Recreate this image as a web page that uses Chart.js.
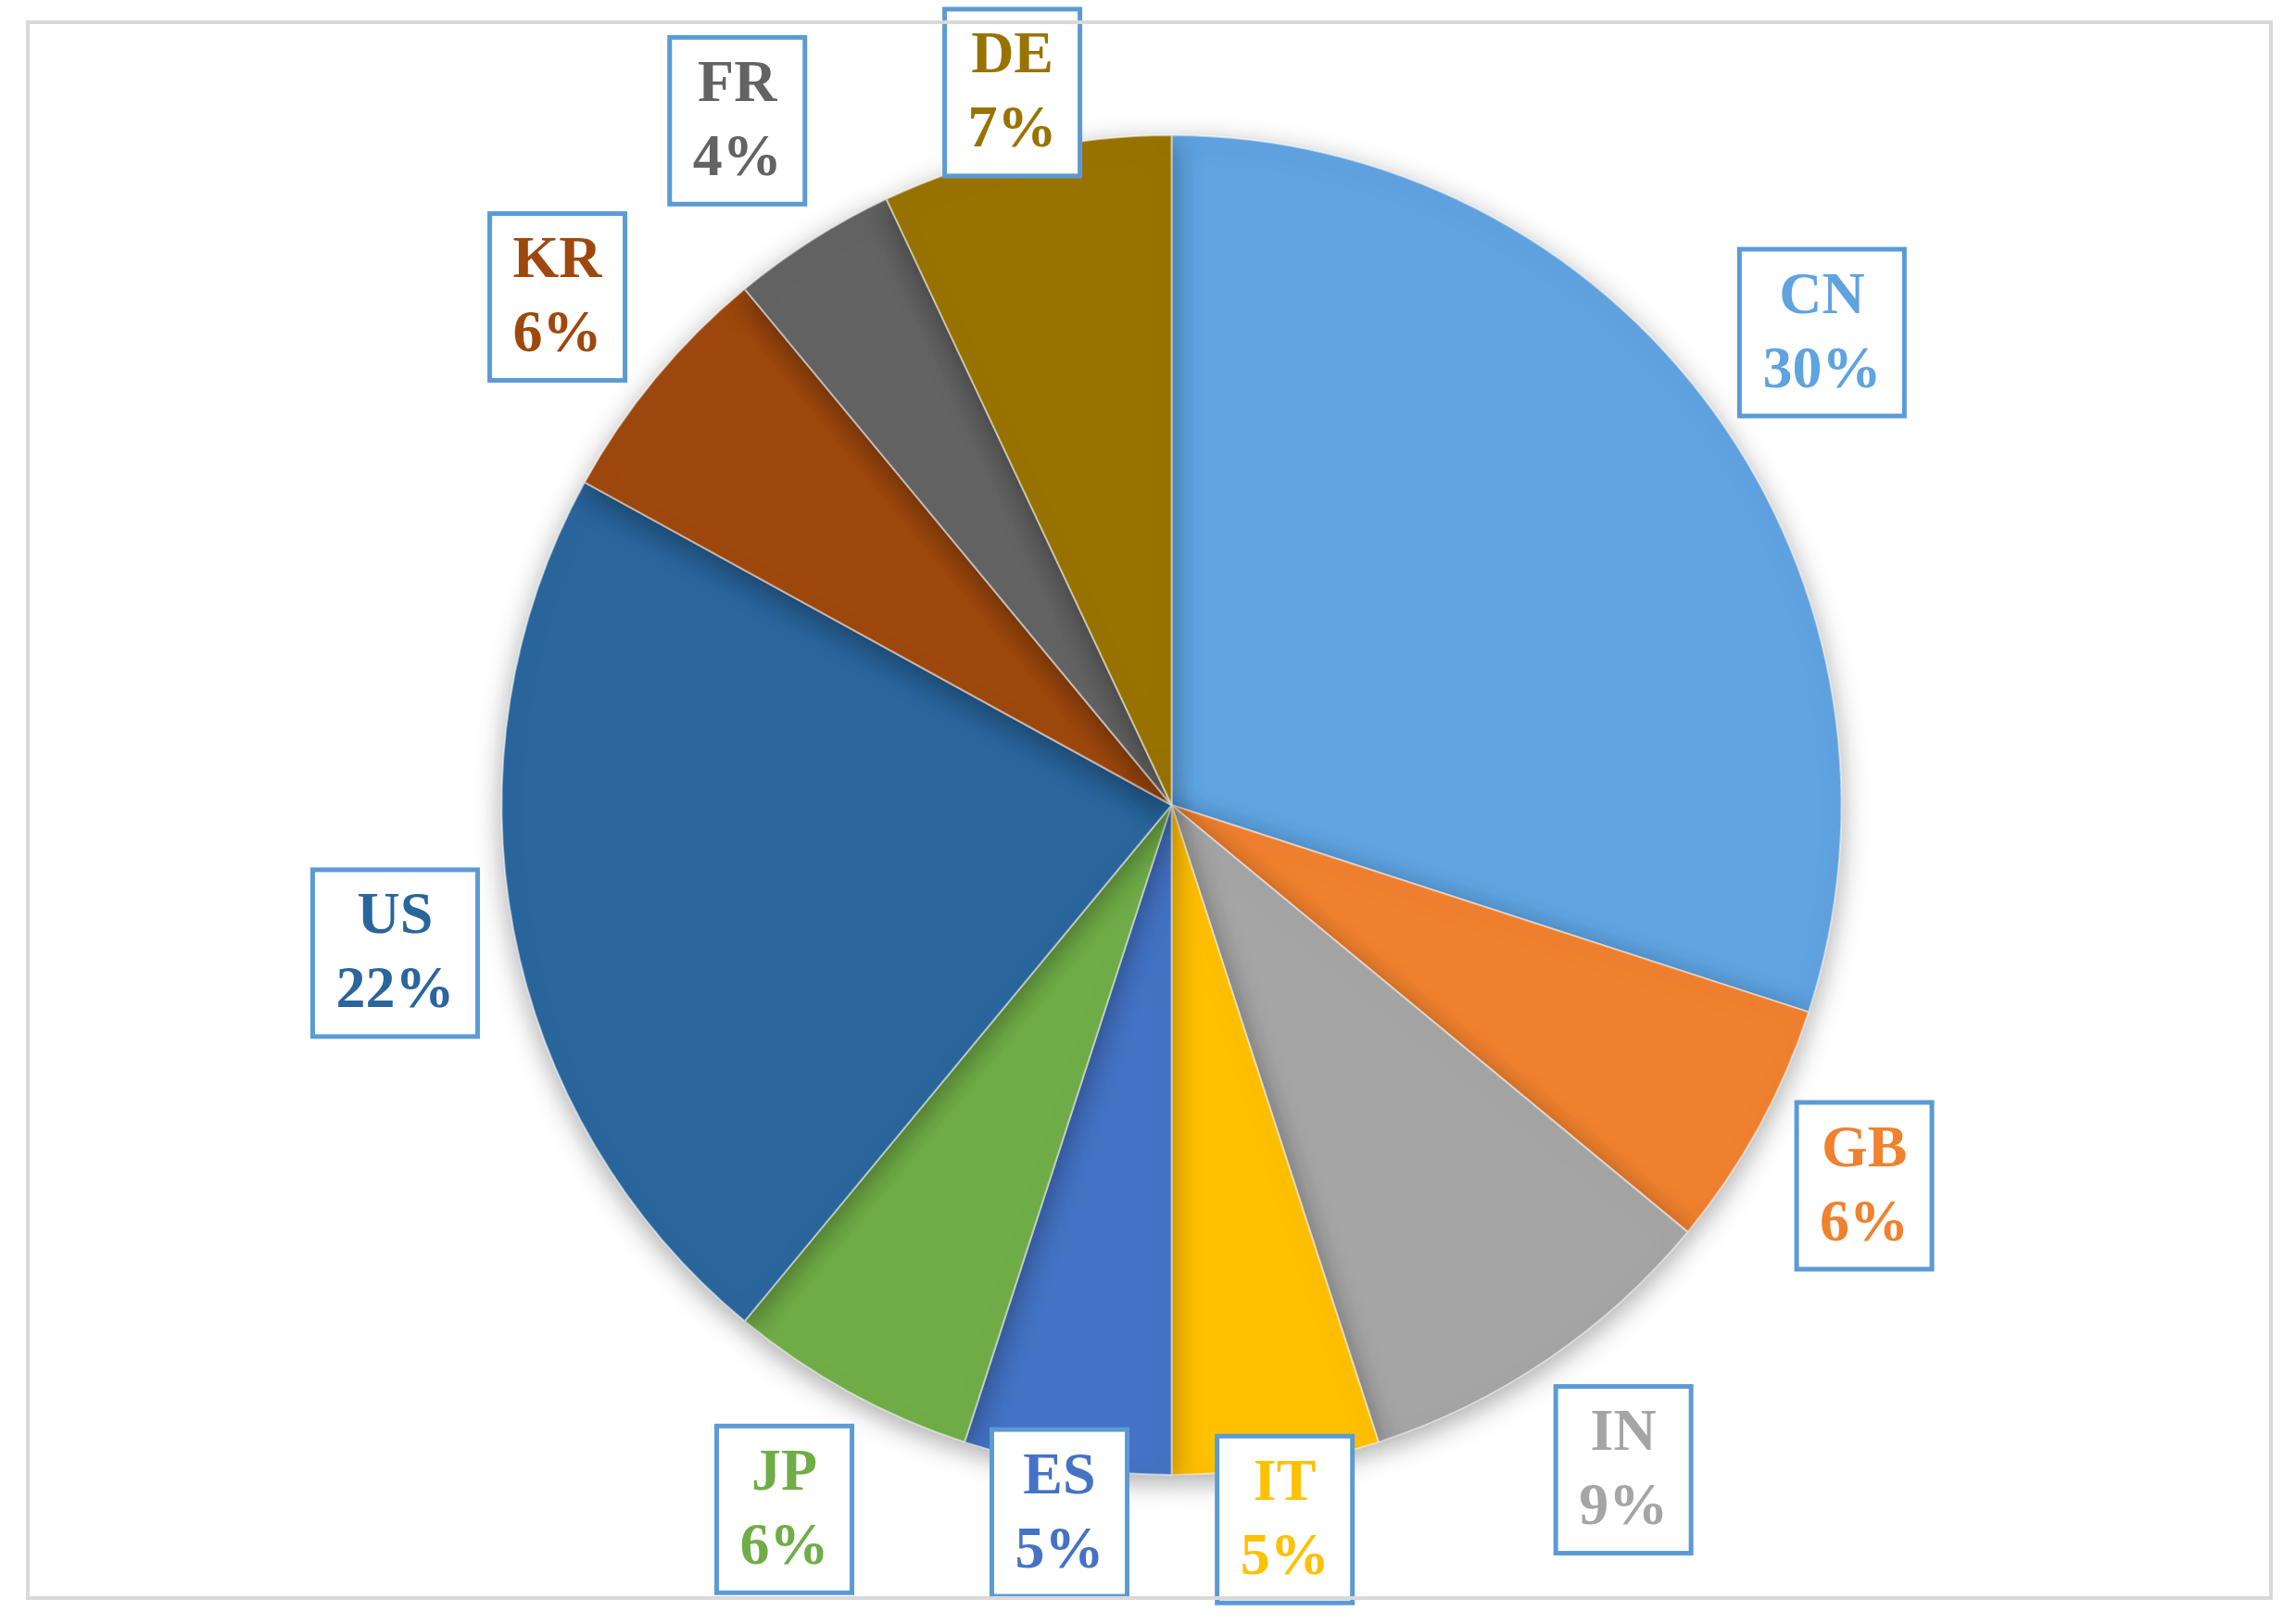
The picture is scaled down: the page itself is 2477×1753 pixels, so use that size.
<!DOCTYPE html>
<html>
<head>
<meta charset="utf-8">
<script src="https://cdn.jsdelivr.net/npm/chart.js@4.4.1/dist/chart.umd.min.js"></script>
<style>
  html, body { margin: 0; padding: 0; background: #fff; }
  #wrap { position: relative; width: 2477px; height: 1753px; }
  #frame { position: absolute; left: 28px; top: 22px; width: 2425px; height: 1705px; border: 4px solid #d9d9d9; box-sizing: border-box; }
</style>
</head>
<body>
<div id="wrap">
  <div id="frame"></div>
  <canvas id="chart" width="2477" height="1753"></canvas>
</div>
<script>
const paises = ['CN', 'GB', 'IN', 'IT', 'ES', 'JP', 'US', 'KR', 'FR', 'DE'];
const porcentajes = [30, 6, 9, 5, 5, 6, 22, 6, 4, 7];
const colores = ['#5fa3e0', '#f0812f', '#a5a5a5', '#ffc000', '#4472c4', '#70ad47', '#2a659c', '#9e480e', '#636363', '#997300'];
// distancia de cada etiqueta al centro, en radios
const distEtiqueta = [1.2, 1.18, 1.2, 1.08, 1.07, 1.2, 1.18, 1.19, 1.21, 1.09];

const FUENTE = 'bold 64px "Liberation Serif"';

const etiquetas = {
  id: 'etiquetas',
  afterDatasetsDraw(chart) {
    const ctx = chart.ctx;
    const meta = chart.getDatasetMeta(0);
    ctx.save();
    ctx.font = FUENTE;
    ctx.textAlign = 'center';
    ctx.textBaseline = 'middle';
    meta.data.forEach((arc, i) => {
      const ang = (arc.startAngle + arc.endAngle) / 2;
      const r = arc.outerRadius * distEtiqueta[i];
      const x = arc.x + Math.cos(ang) * r;
      const y = arc.y + Math.sin(ang) * r;
      const l1 = paises[i];
      const l2 = porcentajes[i] + '%';
      const w = Math.max(ctx.measureText(l1).width, ctx.measureText(l2).width) + 50;
      const h = 180;
      ctx.fillStyle = '#fff';
      ctx.fillRect(x - w / 2, y - h / 2, w, h);
      ctx.lineWidth = 5;
      ctx.strokeStyle = '#5b9bd5';
      ctx.strokeRect(x - w / 2, y - h / 2, w, h);
      ctx.fillStyle = colores[i];
      ctx.fillText(l1, x, y - 38);
      ctx.fillText(l2, x, y + 42);
    });
    ctx.restore();
  }
};

const sombra = {
  id: 'sombra',
  beforeDatasetsDraw(chart) {
    const ctx = chart.ctx;
    ctx.save();
    ctx.shadowColor = 'rgba(0,0,0,0.35)';
    ctx.shadowBlur = 30;
    ctx.shadowOffsetY = 8;
  },
  afterDatasetsDraw(chart) {
    chart.ctx.restore();
  }
};

function dibujar() {
  new Chart(document.getElementById('chart'), {
    type: 'pie',
    data: {
      labels: paises,
      datasets: [{
        data: porcentajes,
        backgroundColor: colores,
        borderColor: 'rgba(255,255,255,0.5)',
        borderWidth: 2
      }]
    },
    options: {
      responsive: false,
      animation: false,
      layout: { padding: { top: 145, bottom: 160, left: 100, right: 48 } },
      plugins: { legend: { display: false }, tooltip: { enabled: false } }
    },
    plugins: [sombra, etiquetas]
  });
}

document.fonts.load(FUENTE).then(dibujar, dibujar);
</script>
</body>
</html>
